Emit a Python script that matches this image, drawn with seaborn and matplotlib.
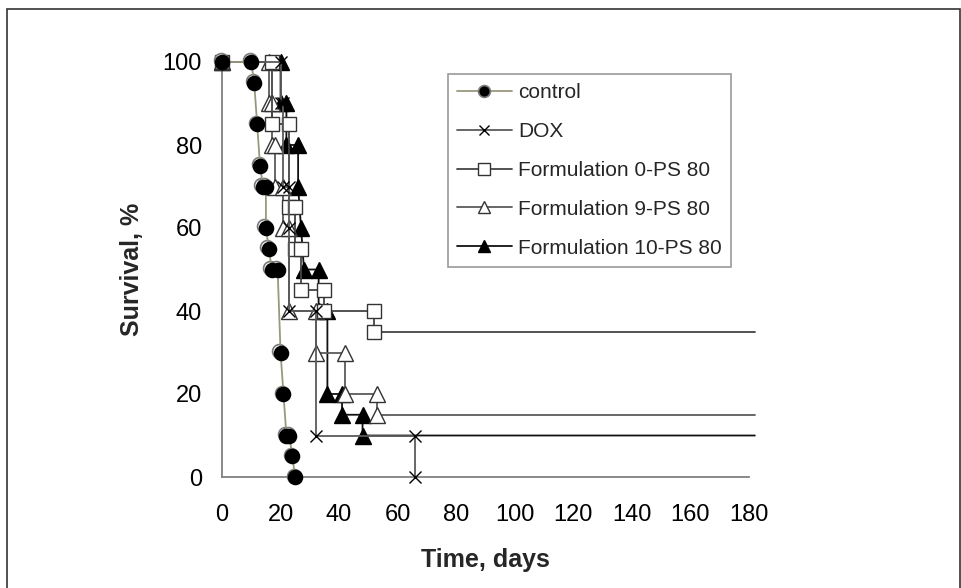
import matplotlib
matplotlib.use("Agg")
import matplotlib.pyplot as plt
import matplotlib.transforms as mtransforms
import seaborn as sns
import pandas as pd
from matplotlib.lines import Line2D
from matplotlib.patches import Rectangle

# ---- data ----
control_t = [0, 10, 11, 12, 13, 14, 15, 15, 16, 17, 19, 20, 21, 22, 23, 24, 25]
control_s = [100, 100, 95, 85, 75, 70, 70, 60, 55, 50, 50, 30, 20, 10, 10, 5, 0]

dox_t = [0, 20, 20, 21, 21, 23, 23, 23, 32, 32, 66, 66]
dox_s = [100, 100, 90, 90, 70, 70, 60, 40, 40, 10, 10, 0]

f0_t = [0, 17, 17, 23, 23, 25, 25, 27, 27, 35, 35, 52, 52, 182]
f0_s = [100, 100, 85, 85, 65, 65, 55, 55, 45, 45, 40, 40, 35, 35]

f9_t = [0, 16, 16, 17, 17, 18, 18, 21, 21, 23, 23, 32, 32, 42, 42, 53, 53, 182]
f9_s = [100, 100, 90, 90, 80, 80, 70, 70, 60, 60, 40, 40, 30, 30, 20, 20, 15, 15]

f10_t = [0, 20, 20, 22, 22, 26, 26, 27, 28, 33, 33, 36, 36, 41, 41, 48, 48, 182]
f10_s = [100, 100, 90, 90, 80, 80, 70, 60, 50, 50, 40, 40, 20, 20, 15, 15, 10, 10]

labels = ["control", "DOX", "Formulation 0-PS 80", "Formulation 9-PS 80", "Formulation 10-PS 80"]
x_ticks = [0, 20, 40, 60, 80, 100, 120, 140, 160, 180]
y_ticks = [0, 20, 40, 60, 80, 100]

sns.set_style("white")
plt.rcParams['font.family'] = ['Liberation Sans', 'DejaVu Sans']

fig = plt.figure(figsize=(9.62, 5.88), dpi=100)
ax = fig.add_axes([222/962, 111/588, 527/962, 415/588])

styles = [
    dict(color="#9a987c", marker="o", mfc="black", mec="#8a8a8a", ms=10, mew=1.2, lw=1.3, censored=False),
    dict(color="#5a5a5a", marker="x", mfc="black", mec="black", ms=9, mew=1.0, lw=1.3, censored=False),
    dict(color="#444444", marker="s", mfc="white", mec="#333333", ms=10, mew=1.0, lw=1.3, censored=True),
    dict(color="#5a5a5a", marker="^", mfc="white", mec="#333333", ms=11, mew=1.0, lw=1.3, censored=True),
    dict(color="#111111", marker="^", mfc="black", mec="black", ms=11, mew=1.0, lw=1.3, censored=True),
]
series = [(control_t, control_s), (dox_t, dox_s), (f0_t, f0_s), (f9_t, f9_s), (f10_t, f10_s)]

shadow = mtransforms.offset_copy(ax.transData, fig=fig, x=-1.5, y=1.5, units="dots")

order = [4, 3, 2, 1, 0]
for i in order:
    t, s = series[i]
    st = styles[i]
    df = pd.DataFrame({"t": t, "s": s})
    n = len(t)
    me = list(range(n - 1)) if st["censored"] else list(range(n))
    if i == 0:
        # grey ring behind the black control markers (3-D look of the original)
        sns.lineplot(data=df, x="t", y="s", sort=False, estimator=None, ax=ax,
                     color=st["color"], lw=0, marker="o", markerfacecolor="white",
                     markeredgecolor="#7a7a7a", markersize=st["ms"], markeredgewidth=1.2,
                     clip_on=False, zorder=8)
        ax.lines[-1].set_transform(shadow)
    sns.lineplot(data=df, x="t", y="s", sort=False, estimator=None, ax=ax,
                 color=st["color"], lw=st["lw"], marker=st["marker"],
                 markerfacecolor=st["mfc"], markeredgecolor=st["mec"] if i else "black",
                 markersize=st["ms"], markeredgewidth=st["mew"],
                 markevery=me, clip_on=False, zorder=3 + (5 - i) + (4 if i == 0 else 0))

ax.set_xlim(0, 180)
ax.set_ylim(0, 100)
ax.set_xticks(x_ticks)
ax.set_yticks(y_ticks)
ax.tick_params(axis="both", labelsize=17, direction="out", length=5, width=1.2,
               color="#808080", labelcolor="black")
ax.tick_params(axis="x", pad=14.5)
ax.tick_params(axis="y", pad=9.5)
for sp in ["top", "right"]:
    ax.spines[sp].set_visible(False)
for sp in ["left", "bottom"]:
    ax.spines[sp].set_color("#808080")
    ax.spines[sp].set_linewidth(1.3)

ax.set_xlabel("Time, days", fontsize=18, fontweight="bold", labelpad=16)
ax.set_ylabel("Survival, %", fontsize=18, fontweight="bold", labelpad=13)

handles = []
for i, st in enumerate(styles):
    handles.append(Line2D([0], [0], color=st["color"], lw=st["lw"], marker=st["marker"],
                          markerfacecolor=st["mfc"],
                          markeredgecolor=st["mec"] if i else "#7a7a7a",
                          markersize=st["ms"] * 0.85, markeredgewidth=st["mew"]))
leg = fig.legend(handles, labels, loc="upper left", bbox_to_anchor=(448/962, 1 - 74/588),
                 fontsize=15, frameon=True, fancybox=False, handlelength=2.6,
                 handletextpad=0.3, labelspacing=0.95, borderpad=0.45, borderaxespad=0)
leg.get_frame().set_edgecolor("#808080")
leg.get_frame().set_linewidth(1.2)

# outer chart-area border
fig.add_artist(Rectangle((7/962, -0.05), (960 - 7)/962, 1.05 - 9/588, transform=fig.transFigure,
                         fill=False, edgecolor="#333333", lw=1.2))

fig.savefig("out.png", dpi=100)
